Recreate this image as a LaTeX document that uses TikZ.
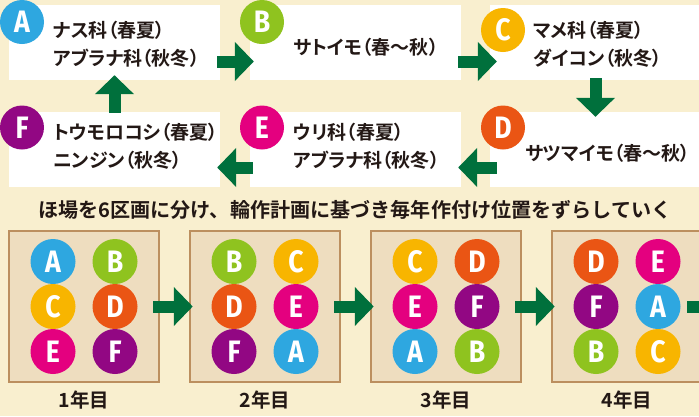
\documentclass[tikz,border=0pt]{standalone}
\usepackage{fontspec}
\usepackage{xcolor}
\usetikzlibrary{positioning,arrows.meta}
\newfontfamily\jpb{Noto Sans CJK JP Bold}
\newfontfamily\jpp{Noto Sans CJK JP Bold}[RawFeature=+palt]
\newfontfamily\ltr{Fira Sans}[FakeStretch=0.86]
\definecolor{cA}{HTML}{2EA7E0}
\definecolor{cB}{HTML}{8FC31F}
\definecolor{cC}{HTML}{F8B500}
\definecolor{cD}{HTML}{EA5514}
\definecolor{cE}{HTML}{E4007F}
\definecolor{cF}{HTML}{920783}
\definecolor{arrgreen}{HTML}{00703C}
\definecolor{cream}{HTML}{F9EFCF}
\definecolor{plotfill}{HTML}{EEDDBF}
\definecolor{plotedge}{HTML}{BC8F5F}
\definecolor{ink}{HTML}{231815}
\newcommand\croplet[1]{\ifcase#1 A\or B\or C\or D\or E\or F\fi}
\tikzset{
  cropbox/.style={fill=white, minimum width=211pt, minimum height=75pt, inner sep=0},
  tag/.style={circle, fill=#1, minimum size=44pt, inner sep=0, text=white, font=\ltr\bfseries\fontsize{31}{31}\selectfont},
  lbl/.style={anchor=west, align=left, inner sep=0, text=ink, font=\jpp\fontsize{19}{28}\selectfont},
  flow/.style={line width=12pt, draw=arrgreen, -{Triangle[length=19pt,width=38pt]}},
  plot/.style={draw=plotedge, line width=2.5pt, fill=plotfill, minimum width=150pt, minimum height=151pt, inner sep=0},
  year/.style={text=ink, inner sep=0, font=\jpb\fontsize{19.5}{19.5}\selectfont},
}

\begin{document}
\begin{tikzpicture}[x=1pt,y=-1pt]
\useasboundingbox (0,0) rectangle (699,416);
\clip (0,0) rectangle (699,416);
\fill[cream] (0,0) rectangle (699,416);

\node[cropbox] (boxA) at (114.5,42.5) {};
\node[cropbox] (boxB) at (355.5,42.5) {};
\node[cropbox] (boxC) at (595.5,42.5) {};
\node[cropbox] (boxD) at (595.5,149.5) {};
\node[cropbox] (boxE) at (355.5,149.5) {};
\node[cropbox] (boxF) at (114.5,149.5) {};

\node[tag=cA] (tagA) at (22,22) {A};
\node[tag=cB] (tagB) at (262,22) {B};
\node[tag=cC] (tagC) at (503,30) {C};
\node[tag=cD] (tagD) at (503,127.5) {D};
\node[tag=cE] (tagE) at (262,127.5) {E};
\node[tag=cF] (tagF) at (22,127.5) {F};

\node[lbl] (txtA) at (53,44) {ナス科（春夏）\\アブラナ科（秋冬）};
\node[lbl] (txtB) at (293,47) {サトイモ（春～秋）};
\node[lbl] (txtC) at (533,44) {マメ科（春夏）\\ダイコン（秋冬）};
\node[lbl] (txtD) at (525,153) {サツマイモ（春～秋）};
\node[lbl] (txtE) at (293,146.5) {ウリ科（春夏）\\アブラナ科（秋冬）};
\node[lbl] (txtF) at (53,146.5) {トウモロコシ（春夏）\\ニンジン（秋冬）};

\draw[flow,shorten <=-3pt,shorten >=-4pt] ([yshift=-19pt]boxA.east) -- ([yshift=-19pt]boxB.west);
\draw[flow,shorten <=-3pt,shorten >=-7pt] ([yshift=-19pt]boxB.east) -- ([yshift=-19pt]boxC.west);
\draw[flow,shorten <=-2pt,shorten >=-5pt] (boxC.south) -- (boxD.north);
\draw[flow,shorten <=-7pt,shorten >=-3pt] ([yshift=-18pt]boxD.west) -- ([yshift=-18pt]boxE.east);
\draw[flow,shorten <=-3pt,shorten >=-3pt] ([yshift=-18pt]boxE.west) -- ([yshift=-18pt]boxF.east);
\draw[flow,shorten <=-1pt,shorten >=-5pt] (boxF.north) -- (boxA.south);

\node[text=ink, inner sep=0, font=\jpb\fontsize{20.1}{20.1}\selectfont] (head) at (355,210) {ほ場を6区画に分け、輪作計画に基づき毎年作付け位置をずらしていく};

\foreach \i/\x in {1/84,2/265,3/446,4/627} {
  \node[plot] (p\i) at (\x,306.5) {};
  \foreach \k/\dx/\dy in {0/-31/-45,1/31/-45,2/-31/0,3/31/0,4/-31/45,5/31/45} {
    \pgfmathtruncatemacro\n{mod(\k+\i-1,6)}
    \node[tag=c\croplet{\n}, minimum size=45pt] (p\i c\k) at ([xshift=\dx pt,yshift=-\dy pt]p\i.center) {\croplet{\n}};
  }
  \node[year] (yr\i) at (\x,400) {\i 年目};
}
\coordinate (nxt) at (745,306.5);
\draw[flow,shorten <=-7pt,shorten >=-4pt] (p1.east) -- (p2.west);
\draw[flow,shorten <=-7pt,shorten >=-4pt] (p2.east) -- (p3.west);
\draw[flow,shorten <=-7pt,shorten >=-4pt] (p3.east) -- (p4.west);
\draw[flow,shorten <=-16pt] (p4.east) -- (nxt);
\end{tikzpicture}
\end{document}
